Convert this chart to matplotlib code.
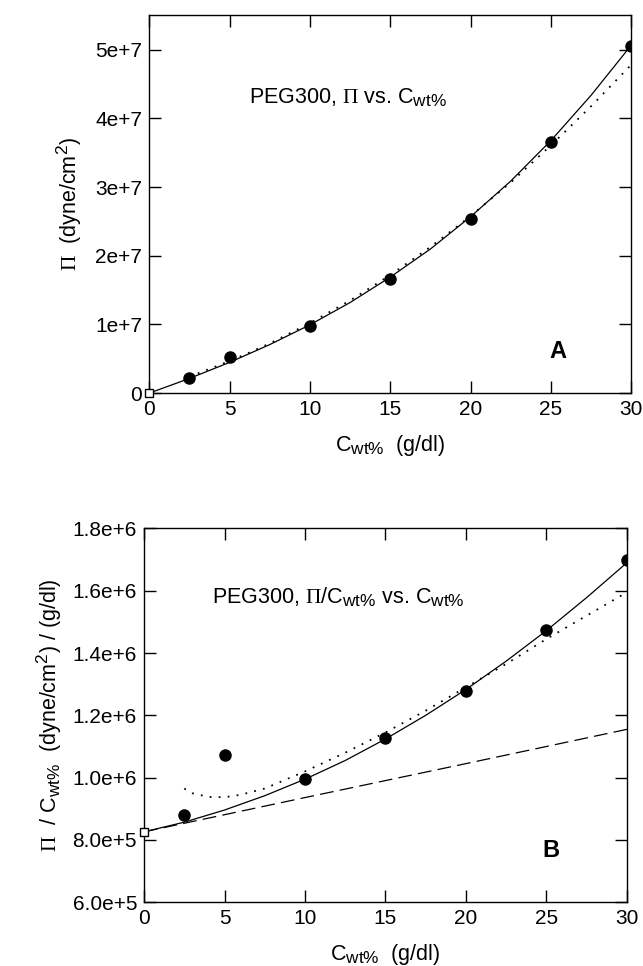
import matplotlib
matplotlib.use("Agg")
import matplotlib.pyplot as plt
import matplotlib._mathtext as _mt

plt.rcParams["font.family"] = ["Liberation Sans", "DejaVu Sans"]
plt.rcParams["mathtext.fontset"] = "custom"
plt.rcParams["mathtext.rm"] = "Liberation Serif"
plt.rcParams["mathtext.sf"] = "Liberation Sans"
# the original sub/superscripts are only slightly smaller than the base text
_mt.SHRINK_FACTOR = 0.8

# measured points
conc = [2.5, 5, 10, 15, 20, 25, 30]
pi_meas = [2.2e6, 5.3e6, 9.8e6, 1.66e7, 2.53e7, 3.66e7, 5.06e7]
pi_over_c = [8.8e5, 1.072e6, 9.95e5, 1.127e6, 1.278e6, 1.475e6, 1.70e6]

# extrapolated intercept (open square)
x0 = [0]
pi_x0 = [0]
pic_x0 = [8.26e5]

# fit curves
fit_x = [0, 2.5, 5, 7.5, 10, 12.5, 15, 17.5, 20, 22.5, 25, 27.5, 30]
pi_fit = [0, 2.14e6, 4.48e6, 7.07e6, 9.95e6, 1.32e7, 1.69e7, 2.10e7,
          2.57e7, 3.09e7, 3.68e7, 4.34e7, 5.07e7]
pic_fit = [8.26e5, 8.57e5, 8.96e5, 9.42e5, 9.95e5, 1.055e6, 1.124e6,
           1.200e6, 1.283e6, 1.374e6, 1.472e6, 1.578e6, 1.690e6]

dot_x = [2.5, 3, 4, 5, 6, 7.5, 10, 12.5, 15, 17.5, 20, 22.5, 25, 27.5, 30]
pi_dot = [2.41e6, 2.85e6, 3.75e6, 4.69e6, 5.67e6, 7.24e6, 1.02e7, 1.35e7,
          1.72e7, 2.13e7, 2.58e7, 3.07e7, 3.61e7, 4.18e7, 4.785e7]
pic_dot = [9.65e5, 9.5e5, 9.38e5, 9.37e5, 9.45e5, 9.65e5, 1.02e6, 1.08e6,
           1.145e6, 1.215e6, 1.29e6, 1.365e6, 1.445e6, 1.52e6, 1.595e6]

lin_x = [0, 10, 20, 30]
pic_lin = [8.26e5, 9.36e5, 1.045e6, 1.155e6]

xticks = [0, 5, 10, 15, 20, 25, 30]
yticks_a = [0, 1e7, 2e7, 3e7, 4e7, 5e7]
ylabels_a = ["0", "1e+7", "2e+7", "3e+7", "4e+7", "5e+7"]
yticks_b = [6e5, 8e5, 1.0e6, 1.2e6, 1.4e6, 1.6e6, 1.8e6]
ylabels_b = ["6.0e+5", "8.0e+5", "1.0e+6", "1.2e+6", "1.4e+6", "1.6e+6", "1.8e+6"]

FS = 15
LFS = 15.5
XLAB = r"C$_{\mathsf{wt\%}}$  (g/dl)"


def _style(ax):
    ax.tick_params(direction="in", length=8.5, width=1.0, top=True, right=True,
                   labelsize=FS, pad=5)
    for sp in ax.spines.values():
        sp.set_linewidth(1.0)
    ax.set_xlim(0, 30)
    ax.set_xticks(xticks)


fig = plt.figure(figsize=(6.43, 9.66), dpi=100)

# ---- panel A
axA = fig.add_axes([0.232, 0.593, 0.750, 0.391])
axA.plot(fit_x, pi_fit, color="black", lw=0.9)
axA.plot(dot_x, pi_dot, color="black", lw=1.3, linestyle=(0, (1, 4)))
axA.plot(conc, pi_meas, "o", color="black", ms=8)
axA.plot(x0, pi_x0, "s", mfc="white", mec="black", ms=6, clip_on=False, zorder=5)
_style(axA)
axA.set_ylim(0, 5.5e7)
axA.set_yticks(yticks_a)
axA.set_yticklabels(ylabels_a)
axA.set_xlabel(XLAB, fontsize=LFS, labelpad=10)
axA.set_ylabel(r"$\Pi$  (dyne/cm$^{\mathsf{2}}$)", fontsize=LFS, labelpad=8)
axA.text(6.2, 4.3e7, r"PEG300, $\Pi$ vs. C$_{\mathsf{wt\%}}$", fontsize=LFS,
         va="center")
axA.text(25.4, 0.61e7, "A", fontsize=17, fontweight="bold", ha="center",
         va="center")

# ---- panel B
axB = fig.add_axes([0.224, 0.066, 0.751, 0.387])
axB.plot(fit_x, pic_fit, color="black", lw=0.9)
axB.plot(dot_x, pic_dot, color="black", lw=1.3, linestyle=(0, (1, 4)))
axB.plot(lin_x, pic_lin, color="black", lw=0.9, linestyle=(0, (11, 5)))
axB.plot(conc, pi_over_c, "o", color="black", ms=8)
axB.plot(x0, pic_x0, "s", mfc="white", mec="black", ms=6, clip_on=False, zorder=5)
_style(axB)
axB.set_ylim(6e5, 1.8e6)
axB.set_yticks(yticks_b)
axB.set_yticklabels(ylabels_b)
axB.set_xlabel(XLAB, fontsize=LFS, labelpad=10)
axB.set_ylabel(r"$\Pi$  / C$_{\mathsf{wt\%}}$  (dyne/cm$^{\mathsf{2}}$) / (g/dl)",
               fontsize=LFS, labelpad=6)
axB.text(4.2, 1.58e6, r"PEG300, $\Pi$/C$_{\mathsf{wt\%}}$ vs. C$_{\mathsf{wt\%}}$",
         fontsize=LFS, va="center")
axB.text(25.3, 7.67e5, "B", fontsize=17, fontweight="bold", ha="center",
         va="center")

fig.savefig("out.png", dpi=100)
